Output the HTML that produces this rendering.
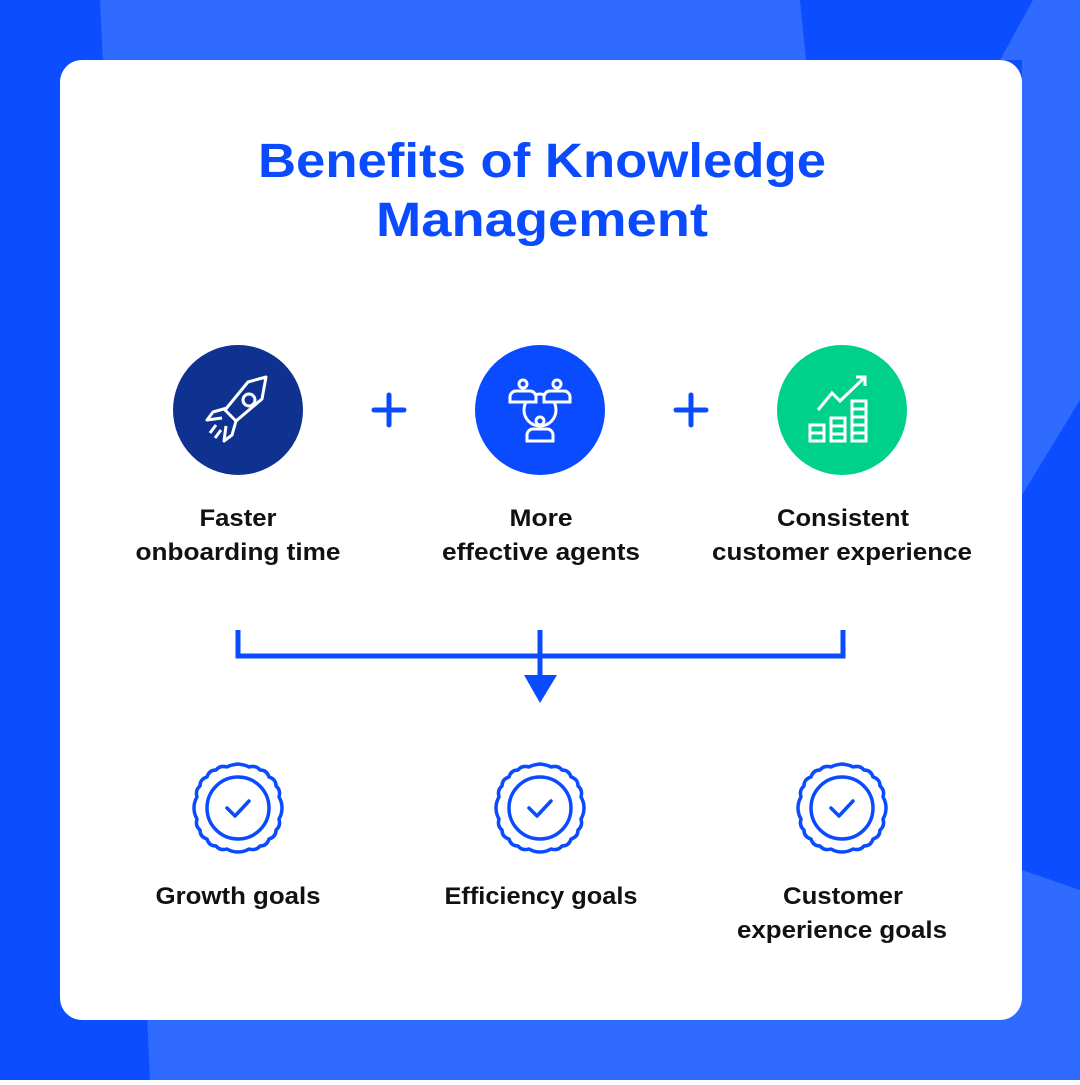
<!DOCTYPE html>
<html><head><style>
body{margin:0;width:1080px;height:1080px;overflow:hidden;font-family:"Liberation Sans",sans-serif}
</style></head><body>
<svg width="1080" height="1080" viewBox="0 0 1080 1080" xmlns="http://www.w3.org/2000/svg">
<rect width="1080" height="1080" fill="#0b4dff"/>
<polygon points="100,0 800,0 830,300 1022,300 1022,1020 1080,1020 1080,1080 150,1080" fill="#2f6bff"/>
<polygon points="1033,0 1080,0 1080,400 1022,495 1022,60 1000,60" fill="#2f6bff"/>
<polygon points="1022,870 1080,890 1080,1080 1022,1080" fill="#2f6bff"/>
<rect x="60" y="60" width="962" height="960" rx="22" fill="#fff"/>
<g font-weight="bold" font-size="48" fill="#0a4bff" text-anchor="middle">
<text x="542" y="177" textLength="568" lengthAdjust="spacingAndGlyphs">Benefits of Knowledge</text>
<text x="542" y="236" textLength="332" lengthAdjust="spacingAndGlyphs">Management</text>
</g>
<circle cx="238" cy="410" r="65" fill="#0f3291"/>
<circle cx="540" cy="410" r="65" fill="#0a4bff"/>
<circle cx="842" cy="410" r="65" fill="#00d18a"/>
<g stroke="#0a4bff" stroke-width="5" stroke-linecap="round">
<path d="M374 410h30M389 395v30M676 410h30M691 395v30"/>
</g>
<g fill="none" stroke="#fff" stroke-width="3" stroke-linejoin="round">
<path d="M266 377 L248 382 L225 410 L236 421 L262 399 Z"/>
<circle cx="249" cy="400" r="6"/>
<path d="M227 408 L213 412 L207 420 L222 418 M236 421 L232 435 L224 441 L226 426"/>
<path d="M216 425 L210 433 M221 430 L215 438"/>
</g>
<g fill="none" stroke="#fff" stroke-width="3">
<circle cx="540" cy="410" r="16"/>
<circle cx="523" cy="384" r="4" fill="#0a4bff"/><path d="M510 402v-5a6 6 0 0 1 6-6h14a6 6 0 0 1 6 6v5z" fill="#0a4bff"/>
<circle cx="557" cy="384" r="4" fill="#0a4bff"/><path d="M544 402v-5a6 6 0 0 1 6-6h14a6 6 0 0 1 6 6v5z" fill="#0a4bff"/>
<circle cx="540" cy="421" r="4" fill="#0a4bff"/><path d="M527 441v-6a6 6 0 0 1 6-6h14a6 6 0 0 1 6 6v6z" fill="#0a4bff"/>
</g>
<g fill="none" stroke="#fff" stroke-width="3">
<path d="M818 410 L832 393 L840 401 L864 378 M856 377h9v9"/>
<rect x="810" y="425" width="14" height="16"/><rect x="831" y="418" width="14" height="23"/><rect x="852" y="401" width="14" height="40"/>
<path d="M810 433h14M831 426h14M831 434h14M852 409h14M852 417h14M852 425h14M852 433h14"/>
</g>
<g font-size="24" fill="#111" text-anchor="middle" font-weight="bold">
<text x="238" y="526" textLength="77" lengthAdjust="spacingAndGlyphs">Faster</text><text x="238" y="560" textLength="205" lengthAdjust="spacingAndGlyphs">onboarding time</text>
<text x="541" y="526" textLength="63" lengthAdjust="spacingAndGlyphs">More</text><text x="541" y="560" textLength="198" lengthAdjust="spacingAndGlyphs">effective agents</text>
<text x="843" y="526" textLength="132" lengthAdjust="spacingAndGlyphs">Consistent</text><text x="842" y="560" textLength="260" lengthAdjust="spacingAndGlyphs">customer experience</text>
<text x="238" y="904" textLength="165" lengthAdjust="spacingAndGlyphs">Growth goals</text>
<text x="541" y="904" textLength="193" lengthAdjust="spacingAndGlyphs">Efficiency goals</text>
<text x="843" y="904" textLength="120" lengthAdjust="spacingAndGlyphs">Customer</text><text x="842" y="938" textLength="210" lengthAdjust="spacingAndGlyphs">experience goals</text>
</g>
<g stroke="#0a4bff" stroke-width="5" fill="none">
<path d="M238 630V656H843V630M540 630V680"/>
</g>
<polygon points="524,675 557,675 540,703" fill="#0a4bff"/>
<defs>
<g id="badge" fill="none" stroke="#0a4bff" stroke-width="3.5" stroke-linejoin="round" stroke-linecap="round">
<path d="M0 -44 Q8 -43 11 -41 Q18 -43 22 -38 Q29 -38 31 -31 Q38 -29 38 -22 Q43 -18 41 -11 Q44 -6 44 0 Q44 6 41 11 Q43 18 38 22 Q38 29 31 31 Q29 38 22 38 Q18 43 11 41 Q6 44 0 44 Q-6 44 -11 41 Q-18 43 -22 38 Q-29 38 -31 31 Q-38 29 -38 22 Q-43 18 -41 11 Q-44 6 -44 0 Q-44 -6 -41 -11 Q-43 -18 -38 -22 Q-38 -29 -31 -31 Q-29 -38 -22 -38 Q-18 -43 -11 -41 Q-8 -43 0 -44 Z"/>
<circle r="31"/>
<path d="M-11 0 L-3 8 L11 -7"/>
</g>
</defs>
<use href="#badge" x="238" y="808"/>
<use href="#badge" x="540" y="808"/>
<use href="#badge" x="842" y="808"/>
</svg>
</body></html>
